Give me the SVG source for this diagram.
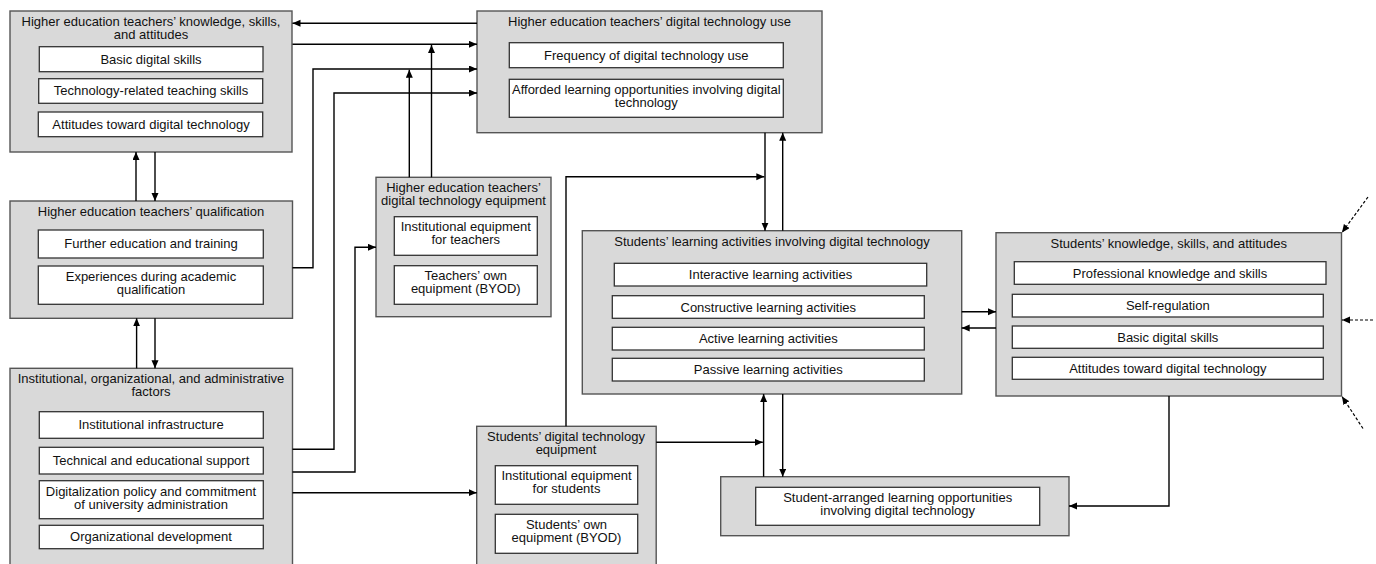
<svg xmlns="http://www.w3.org/2000/svg" width="1376" height="564" viewBox="0 0 1376 564">
<defs>
<marker id="ah" markerWidth="9" markerHeight="8" refX="8" refY="3.5" orient="auto" markerUnits="userSpaceOnUse">
<path d="M0,0 L8,3.5 L0,7 z" fill="#000"/>
</marker>
</defs>
<style>
.o{fill:#d9d9d9;stroke:#555;stroke-width:1.4}
.i{fill:#fff;stroke:#333;stroke-width:1.3}
text{font-family:"Liberation Sans",Arial,sans-serif;font-size:13px;fill:#111;text-anchor:middle}
.c{fill:none;stroke:#000;stroke-width:1.4;marker-end:url(#ah)}
.d{fill:none;stroke:#000;stroke-width:1.2;stroke-dasharray:3,2;marker-end:url(#ah)}
</style>
<rect width="1376" height="564" fill="#fff"/>

<g id="teachers-ksa">
<rect class="o" x="10" y="11" width="282" height="141"/>
<text x="151" y="25.5">Higher education teachers’ knowledge, skills,</text>
<text x="151" y="38.5">and attitudes</text>
<rect class="i" x="39.3" y="46.7" width="223.7" height="25"/>
<text x="151" y="63.5">Basic digital skills</text>
<rect class="i" x="38.7" y="78.7" width="224" height="24.6"/>
<text x="151" y="95.3">Technology-related teaching skills</text>
<rect class="i" x="38.3" y="112" width="224.4" height="24.7"/>
<text x="151" y="128.6">Attitudes toward digital technology</text>
</g>

<g id="teachers-use">
<rect class="o" x="477" y="11" width="345" height="121.7"/>
<text x="649.5" y="26">Higher education teachers’ digital technology use</text>
<rect class="i" x="509.3" y="42.7" width="274" height="25"/>
<text x="646.3" y="59.5">Frequency of digital technology use</text>
<rect class="i" x="509.3" y="79.3" width="274" height="38"/>
<text x="646.3" y="93.8">Afforded learning opportunities involving digital</text>
<text x="646.3" y="106.8">technology</text>
</g>

<g id="teachers-qualification">
<rect class="o" x="10" y="201" width="282.5" height="117.3"/>
<text x="151" y="216">Higher education teachers’ qualification</text>
<rect class="i" x="38.3" y="230" width="225" height="28"/>
<text x="151" y="248.3">Further education and training</text>
<rect class="i" x="38.3" y="266" width="225" height="38.3"/>
<text x="151" y="280.8">Experiences during academic</text>
<text x="151" y="293.8">qualification</text>
</g>

<g id="institutional-factors">
<rect class="o" x="10" y="368.3" width="282.5" height="205"/>
<text x="151" y="383.3">Institutional, organizational, and administrative</text>
<text x="151" y="396.3">factors</text>
<rect class="i" x="39.3" y="411.7" width="224" height="26.6"/>
<text x="151" y="429.3">Institutional infrastructure</text>
<rect class="i" x="39.3" y="447.3" width="224" height="26.7"/>
<text x="151" y="465">Technical and educational support</text>
<rect class="i" x="39.3" y="480.7" width="224" height="38"/>
<text x="151" y="495.5">Digitalization policy and commitment</text>
<text x="151" y="508.5">of university administration</text>
<rect class="i" x="39.3" y="525.3" width="224" height="23.4"/>
<text x="151" y="541.3">Organizational development</text>
</g>

<g id="teachers-equipment">
<rect class="o" x="376" y="177.3" width="175" height="139.4"/>
<text x="463.5" y="192">Higher education teachers’</text>
<text x="463.5" y="205">digital technology equipment</text>
<rect class="i" x="394.3" y="216.7" width="143" height="38.6"/>
<text x="465.8" y="231.3">Institutional equipment</text>
<text x="465.8" y="244.3">for teachers</text>
<rect class="i" x="394.3" y="265.7" width="143" height="38.6"/>
<text x="465.8" y="280.2">Teachers’ own</text>
<text x="465.8" y="293.2">equipment (BYOD)</text>
</g>

<g id="students-equipment">
<rect class="o" x="476.7" y="426.3" width="179.5" height="150"/>
<text x="566" y="440.9">Students’ digital technology</text>
<text x="566" y="453.9">equipment</text>
<rect class="i" x="495.3" y="465.7" width="142.4" height="38.6"/>
<text x="566.5" y="480.2">Institutional equipment</text>
<text x="566.5" y="493.2">for students</text>
<rect class="i" x="495.3" y="514.3" width="142.4" height="39"/>
<text x="566.5" y="529.2">Students’ own</text>
<text x="566.5" y="542.2">equipment (BYOD)</text>
</g>

<g id="learning-activities">
<rect class="o" x="582.3" y="230.7" width="379.4" height="163.3"/>
<text x="772" y="246">Students’ learning activities involving digital technology</text>
<rect class="i" x="614.3" y="263.3" width="312.4" height="22.7"/>
<text x="770.5" y="279">Interactive learning activities</text>
<rect class="i" x="612.3" y="295.7" width="312" height="22.6"/>
<text x="768.3" y="311.5">Constructive learning activities</text>
<rect class="i" x="612.3" y="327.3" width="312" height="22.7"/>
<text x="768.3" y="343">Active learning activities</text>
<rect class="i" x="612.3" y="358.3" width="312" height="22.7"/>
<text x="768.3" y="374">Passive learning activities</text>
</g>

<g id="students-ksa">
<rect class="o" x="996" y="232.7" width="345.5" height="163.3"/>
<text x="1168.8" y="247.8">Students’ knowledge, skills, and attitudes</text>
<rect class="i" x="1014.3" y="261.7" width="311.7" height="22.6"/>
<text x="1170" y="277.5">Professional knowledge and skills</text>
<rect class="i" x="1012.3" y="294.3" width="311" height="22.7"/>
<text x="1167.8" y="310">Self-regulation</text>
<rect class="i" x="1012.3" y="326" width="311" height="22.3"/>
<text x="1167.8" y="341.7">Basic digital skills</text>
<rect class="i" x="1012.3" y="357.3" width="311" height="22"/>
<text x="1167.8" y="372.8">Attitudes toward digital technology</text>
</g>

<g id="student-arranged">
<rect class="o" x="720.7" y="476.7" width="348.3" height="59"/>
<rect class="i" x="755.7" y="487.3" width="284" height="38"/>
<text x="897.7" y="501.8">Student-arranged learning opportunities</text>
<text x="897.7" y="514.8">involving digital technology</text>
</g>

<g id="connectors">
<path class="c" d="M477,23.3 H292.5"/>
<path class="c" d="M292.5,44.3 H477"/>
<path class="c" d="M292.5,267.7 H313 V69 H477"/>
<path class="c" d="M292.5,449.3 H334 V93 H477"/>
<path class="c" d="M292.5,472 H355 V247.3 H376"/>
<path class="c" d="M292.5,492.7 H476.7"/>
<path class="c" d="M409.3,177.3 V69.7"/>
<path class="c" d="M431.5,177.3 V45"/>
<path class="c" d="M136,201 V152"/>
<path class="c" d="M155,152 V201"/>
<path class="c" d="M136.6,368.3 V318.3"/>
<path class="c" d="M155,318.3 V368.3"/>
<path class="c" d="M765,132.7 V230.7"/>
<path class="c" d="M782.7,230.7 V132.7"/>
<path class="c" d="M566,426.3 V176.7 H764.3"/>
<path class="c" d="M656.2,442.3 H762.8"/>
<path class="c" d="M763.6,476.7 V394"/>
<path class="c" d="M782.7,394 V476.7"/>
<path class="c" d="M961.7,311.7 H996"/>
<path class="c" d="M996,328 H961.7"/>
<path class="c" d="M1169,396 V506 H1069"/>
<path class="d" d="M1368,197 L1342,232.5"/>
<path class="d" d="M1373,320 H1342"/>
<path class="d" d="M1363,428.5 L1342,396.5"/>
</g>
</svg>
